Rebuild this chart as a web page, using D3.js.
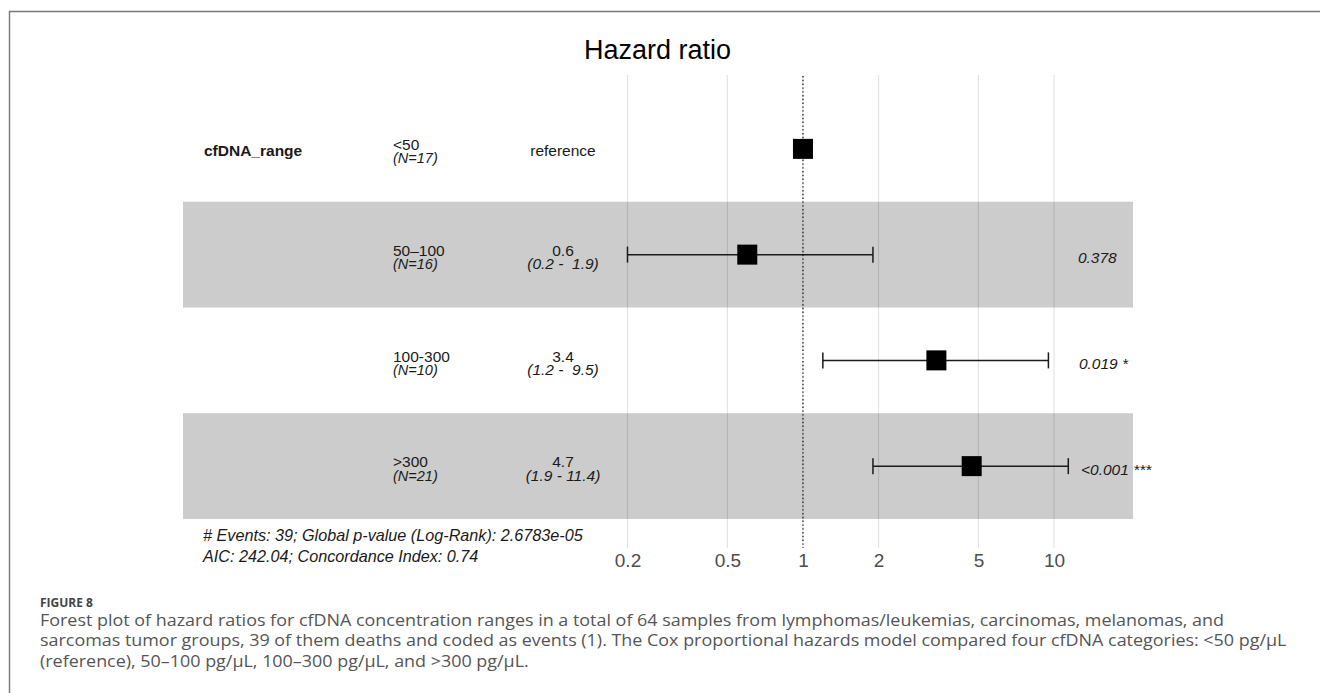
<!DOCTYPE html>
<html>
<head>
<meta charset="utf-8">
<script src="https://cdn.jsdelivr.net/npm/d3@7"></script>
<style>
  body { margin: 0; background: #fff; }
  svg { display: block; }
  text.keep { white-space: pre; }
</style>
</head>
<body>
<svg id="chart" width="1320" height="693"></svg>
<script>
// data
var variableName = 'cfDNA_range';
var levels = ['<50', '50\u2013100', '100-300', '>300'];
var nCounts = [17, 16, 10, 21];
var hazard = [1, 0.6, 3.4, 4.7];
var ciLow = [null, 0.2, 1.2, 1.9];
var ciHigh = [null, 1.9, 9.5, 11.4];
var estLabels = ['reference', '0.6', '3.4', '4.7'];
var ciLabels = ['', '(0.2 -  1.9)', '(1.2 -  9.5)', '(1.9 - 11.4)'];
var pLabels = ['', '0.378', '0.019 *', '<0.001 ***'];
var xTicks = [0.2, 0.5, 1, 2, 5, 10];
var footLines = [
	'# Events: 39; Global p-value (Log-Rank): 2.6783e-05',
	'AIC: 242.04; Concordance Index: 0.74'
];
var captionTitle = 'FIGURE 8';
var captionLines = [
	'Forest plot of hazard ratios for cfDNA concentration ranges in a total of 64 samples from lymphomas/leukemias, carcinomas, melanomas, and',
	'sarcomas tumor groups, 39 of them deaths and coded as events (1). The Cox proportional hazards model compared four cfDNA categories: <50 pg/\u03bcL',
	'(reference), 50\u2013100 pg/\u03bcL, 100\u2013300 pg/\u03bcL, and >300 pg/\u03bcL.'
];

var svg = d3.select('#chart');
var chartFont = '"Liberation Sans", Arial, sans-serif';
var ink = '#1a1a1a';

var x = d3.scaleLog().domain([0.2, 10]).range([627.5, 1054]);
var y = d3.scaleBand().domain(d3.range(levels.length)).range([96, 519]);
var cy = function (i) { return y(i) + y.bandwidth() / 2; };

// frame of the figure panel
svg.append('path')
	.attr('d', 'M9.5,693V11.5H1320')
	.attr('fill', 'none')
	.attr('stroke', '#77777d')
	.attr('stroke-width', 1.4);

// alternating row bands
svg.append('g').selectAll('rect')
	.data(d3.range(levels.length).filter(function (i) { return i % 2 === 1; }))
	.enter()
	.append('rect')
	.attr('x', 183)
	.attr('width', 1133 - 183)
	.attr('y', function (i) { return y(i); })
	.attr('height', y.bandwidth())
	.attr('fill', '#cccccc');

// vertical grid
svg.append('g').selectAll('line')
	.data(xTicks)
	.enter()
	.append('line')
	.attr('x1', x).attr('x2', x)
	.attr('y1', 75).attr('y2', 548)
	.attr('stroke', '#000')
	.attr('stroke-opacity', 0.11)
	.attr('stroke-width', 1.2);

// reference line at HR = 1
svg.append('line')
	.attr('x1', x(1)).attr('x2', x(1))
	.attr('y1', 76).attr('y2', 548)
	.attr('stroke', '#222')
	.attr('stroke-width', 1.3)
	.attr('stroke-dasharray', '1.4,2.4');

// x axis labels
var axis = d3.axisBottom(x).tickValues(xTicks).tickFormat(function (d) { return d; }).tickSize(0).tickPadding(3.5);
var axisG = svg.append('g').attr('transform', 'translate(0,550)').call(axis);
axisG.select('.domain').remove();
axisG.selectAll('text')
	.attr('font-family', chartFont)
	.attr('font-size', 19)
	.attr('fill', '#4d4d4d');

// error bars
var bars = svg.append('g').selectAll('g')
	.data(d3.range(levels.length).filter(function (i) { return ciLow[i] !== null; }))
	.enter()
	.append('g')
	.attr('stroke', ink)
	.attr('stroke-width', 1.5);
bars.append('line')
	.attr('x1', function (i) { return x(ciLow[i]); })
	.attr('x2', function (i) { return x(ciHigh[i]); })
	.attr('y1', cy).attr('y2', cy);
bars.append('line')
	.attr('x1', function (i) { return x(ciLow[i]); })
	.attr('x2', function (i) { return x(ciLow[i]); })
	.attr('y1', function (i) { return cy(i) - 8; })
	.attr('y2', function (i) { return cy(i) + 8; });
bars.append('line')
	.attr('x1', function (i) { return x(ciHigh[i]); })
	.attr('x2', function (i) { return x(ciHigh[i]); })
	.attr('y1', function (i) { return cy(i) - 8; })
	.attr('y2', function (i) { return cy(i) + 8; });

// point estimates
svg.append('g').selectAll('rect')
	.data(d3.range(levels.length))
	.enter()
	.append('rect')
	.attr('x', function (i) { return x(hazard[i]) - 10; })
	.attr('y', function (i) { return cy(i) - 10; })
	.attr('width', 20)
	.attr('height', 20)
	.attr('fill', '#000');

// text columns
var txt = svg.append('g')
	.attr('font-family', chartFont)
	.attr('font-size', 15.5)
	.attr('fill', ink);

txt.append('text')
	.attr('x', 204)
	.attr('y', cy(0) + 7)
	.attr('font-weight', 'bold')
	.text(variableName);

levels.forEach(function (lev, i) {
	txt.append('text').attr('x', 393).attr('y', cy(i) + 1.3).text(lev);
	txt.append('text').attr('x', 393).attr('y', cy(i) + 14.5)
		.attr('font-style', 'italic').attr('font-size', 14.5)
		.text('(N=' + nCounts[i] + ')');

	if (ciLabels[i] === '') {
		txt.append('text').attr('x', 563).attr('y', cy(i) + 7)
			.attr('text-anchor', 'middle').text(estLabels[i]);
	} else {
		txt.append('text').attr('x', 563).attr('y', cy(i) + 1.3)
			.attr('text-anchor', 'middle').text(estLabels[i]);
		txt.append('text').attr('x', 563).attr('y', cy(i) + 14.5)
			.attr('class', 'keep')
			.attr('text-anchor', 'middle').attr('font-style', 'italic')
			.text(ciLabels[i]);
	}

	if (pLabels[i] !== '') {
		var t = txt.append('text').attr('y', cy(i) + 8.5)
			.attr('font-style', 'italic').text(pLabels[i]);
		// left justified with a small offset proportional to width (hjust -0.1)
		var w = t.node().getComputedTextLength();
		t.attr('x', 1074 + 0.1 * w);
	}
});

// model summary under the rows
svg.append('g').selectAll('text')
	.data(footLines)
	.enter()
	.append('text')
	.attr('x', 203)
	.attr('y', function (d, i) { return 541 + i * 20.5; })
	.attr('font-family', chartFont)
	.attr('font-size', 16.2)
	.attr('font-style', 'italic')
	.attr('fill', ink)
	.text(function (d) { return d; });

// title
svg.append('text')
	.attr('x', 657.5)
	.attr('y', 59)
	.attr('text-anchor', 'middle')
	.attr('font-family', chartFont)
	.attr('font-size', 27)
	.attr('fill', '#000')
	.text('Hazard ratio');

// figure caption
var cap = svg.append('g').attr('font-family', '"Open Sans", Lato, sans-serif');
cap.append('text')
	.attr('x', 40)
	.attr('y', 606.5)
	.attr('font-size', 13)
	.attr('font-weight', 'bold')
	.attr('fill', '#444')
	.attr('textLength', 53)
	.attr('lengthAdjust', 'spacingAndGlyphs')
	.text(captionTitle);
var capText = cap.selectAll('text.line')
	.data(captionLines)
	.enter()
	.append('text')
	.attr('class', 'line')
	.attr('x', 40)
	.attr('y', function (d, i) { return 625.5 + i * 20.5; })
	.attr('font-size', 16)
	.attr('fill', '#555')
	.text(function (d) { return d; });
// the caption face in the reference is wider than Open Sans: stretch every
// line by the factor that brings the first line to its measured end (x ~ 1224)
var stretch = (1224 - 40) / capText.nodes()[0].getComputedTextLength();
capText.each(function () {
	d3.select(this)
		.attr('textLength', this.getComputedTextLength() * stretch)
		.attr('lengthAdjust', 'spacingAndGlyphs');
});
</script>
</body>
</html>
